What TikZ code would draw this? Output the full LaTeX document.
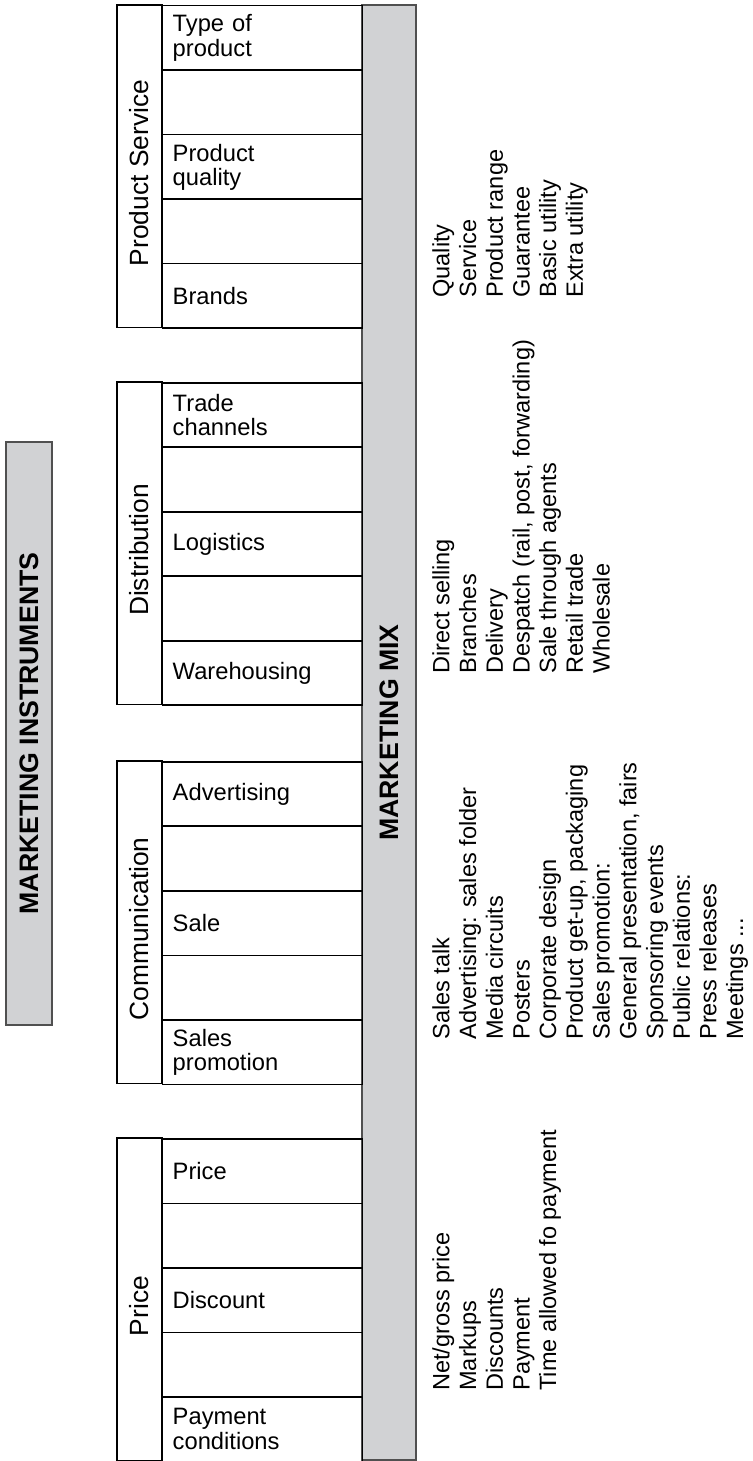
\documentclass[tikz,border=0pt]{standalone}
\usepackage{fontspec}
\setmainfont{Liberation Sans}
\usetikzlibrary{positioning}
\definecolor{mixgray}{RGB}{209,210,212}
\definecolor{rimgray}{RGB}{80,80,80}
\tikzset{
    cellbox/.style={draw, line width=0.85pt, minimum width=4cm, minimum height=1.29cm, text width=3.6cm, inner xsep=0.2cm, inner ysep=0pt, align=left, font=\fontsize{13.5}{13.8}\selectfont},
    grouplabel/.style={rotate=90, inner sep=0pt, font=\fontsize{15}{18}\selectfont},
    groupbox/.style={draw, line width=0.85pt, rotate=90, minimum width=6.45cm, minimum height=0.9cm, inner sep=0pt},
    titlebar/.style={draw=rimgray, fill=mixgray, line width=0.85pt, rotate=90, inner sep=0pt, font=\bfseries\fontsize{15.2}{18}\selectfont},
    itemlist/.style={rotate=90, anchor=north west, inner sep=0pt, align=left, font=\fontsize{13.4}{15.2}\selectfont}
}

\begin{document}
\begin{tikzpicture}[x=0.02cm, y=-0.02cm]
    \useasboundingbox (0,0) rectangle (753,1461);

    % Bars
    \node[titlebar, minimum width=11.66cm, minimum height=0.92cm] (instr) at (29,733.5) {MARKETING INSTRUMENTS};
    \node[titlebar, minimum width=29.1cm, minimum height=1.08cm] (mix) at (389,732.5) {MARKETING MIX};

    % Product Service
    \node[groupbox] (prodbox) at (139.5,166.25) {};
    \node[grouplabel] (prodlabel) at (139.5,173) {Product Service};
    \foreach \lbl [count=\i from 0] in {{Type of\\product},{},{Product\\quality},{},Brands}
        \node[cellbox, anchor=north west] (prod\i) at (162,{5+64.5*\i}) {\lbl};

    % Distribution
    \node[groupbox] (distbox) at (139.5,543.25) {};
    \node[grouplabel] (distlabel) at (139.5,550) {Distribution};
    \foreach \lbl [count=\i from 0] in {{Trade\\channels},{},Logistics,{},Warehousing}
        \node[cellbox, anchor=north west] (dist\i) at (162,{382+64.5*\i}) {\lbl};

    % Communication
    \node[groupbox] (commbox) at (139.5,922.25) {};
    \node[grouplabel] (commlabel) at (139.5,929) {Communication};
    \foreach \lbl [count=\i from 0] in {Advertising,{},Sale,{},{Sales\\promotion}}
        \node[cellbox, anchor=north west] (comm\i) at (162,{761+64.5*\i}) {\lbl};

    % Price
    \node[groupbox] (pricebox) at (139.5,1299.25) {};
    \node[grouplabel] (pricelabel) at (139.5,1306) {Price};
    \foreach \lbl [count=\i from 0] in {Price,{},Discount,{},{Payment\\conditions}}
        \node[cellbox, anchor=north west] (price\i) at (162,{1138+64.5*\i}) {\lbl};

    % Lists
    \node[itemlist] (prodlist) at (432,298) {Quality\\Service\\Product range\\Guarantee\\Basic utility\\Extra utility};
    \node[itemlist] (distlist) at (432,674) {Direct selling\\Branches\\Delivery\\Despatch (rail, post, forwarding)\\Sale through agents\\Retail trade\\Wholesale};
    \node[itemlist] (commlist) at (432,1040) {Sales talk\\Advertising: sales folder\\Media circuits\\Posters\\Corporate design\\Product get-up, packaging\\Sales promotion:\\General presentation, fairs\\Sponsoring events\\Public relations:\\Press releases\\Meetings ...};
    \node[itemlist] (pricelist) at (432,1391) {Net/gross price\\Markups\\Discounts\\Payment\\Time allowed fo payment};
\end{tikzpicture}
\end{document}
